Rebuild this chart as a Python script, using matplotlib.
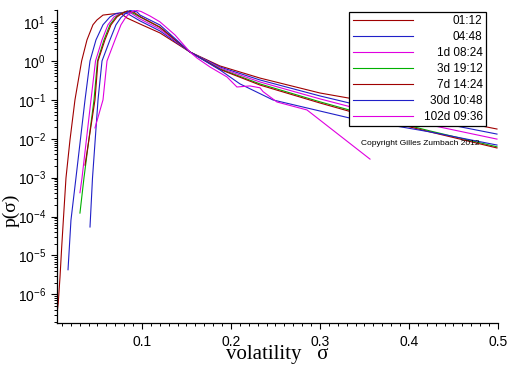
import matplotlib
matplotlib.use("Agg")
import matplotlib.pyplot as plt
from matplotlib.ticker import LogLocator, MultipleLocator, NullFormatter

plt.rcParams['font.family'] = ['Liberation Sans', 'DejaVu Sans']
plt.rcParams['axes.unicode_minus'] = False

# volatility sigma and density p(sigma), one pair per horizon
sig_0112 = [0.0041, 0.0059, 0.0079, 0.0098, 0.0116, 0.0146, 0.0191, 0.0247, 0.0322, 0.0382,
            0.0449, 0.0494, 0.0562, 0.0674, 0.0764, 0.0831, 0.0978, 0.1202, 0.1539, 0.1876,
            0.2326, 0.3000, 0.3562, 0.4236, 0.4989]
p_0112 = [2.63e-7, 6.0e-7, 2.8e-6, 1.66e-5, 7.8e-5, 9.8e-4, 9.3e-3, 0.1, 1.0, 3.47,
          8.5, 11.3, 15.1, 16.2, 16.6, 12.7, 8.9, 5.25, 1.70, 0.744,
          0.363, 0.150, 0.089, 0.039, 0.0178]

sig_0448 = [0.0169, 0.0202, 0.0258, 0.0360, 0.0416, 0.0483, 0.0562, 0.0640, 0.0708, 0.0775,
            0.0843, 0.0978, 0.1202, 0.1539, 0.1876, 0.2326, 0.3000, 0.3562, 0.4236, 0.4989]
p_0448 = [4.3e-6, 8.1e-5, 9.8e-4, 0.1, 1.0, 3.47, 8.5, 13.5, 16.6, 17.6,
          16.2, 10.7, 5.9, 1.70, 0.70, 0.324, 0.126, 0.062, 0.0288, 0.0132]

sig_1d = [0.0303, 0.0326, 0.0427, 0.0478, 0.0551, 0.0618, 0.0685, 0.0753, 0.0809, 0.0876,
          0.0978, 0.1202, 0.1539, 0.1876, 0.2326, 0.3000, 0.3562, 0.4236, 0.4989]
p_1d = [4.1e-4, 9.8e-4, 0.1, 1.0, 3.47, 8.5, 13.5, 16.6, 18.4, 17.0,
        12.0, 6.6, 1.70, 0.66, 0.288, 0.106, 0.049, 0.0226, 0.0098]

sig_3d = [0.0303, 0.0348, 0.0461, 0.0500, 0.0573, 0.0640, 0.0708, 0.0764, 0.0831, 0.0899,
          0.0978, 0.1202, 0.1539, 0.1876, 0.2326, 0.3000, 0.3562, 0.4236, 0.4989]
p_3d = [1.23e-4, 9.8e-4, 0.1, 1.0, 3.47, 8.5, 13.5, 16.6, 19.0, 17.0,
        13.5, 7.3, 1.70, 0.623, 0.257, 0.089, 0.039, 0.0159, 0.0062]

sig_7d = [0.0360, 0.0472, 0.0506, 0.0584, 0.0652, 0.0719, 0.0775, 0.0837, 0.0910, 0.0978,
          0.1202, 0.1539, 0.1876, 0.2326, 0.3000, 0.3562, 0.4236, 0.4989]
p_7d = [2.1e-3, 0.1, 1.0, 3.47, 8.5, 13.5, 16.6, 19.2, 17.8, 13.8,
        7.4, 1.70, 0.605, 0.240, 0.083, 0.036, 0.0150, 0.0058]

sig_30d = [0.0416, 0.0444, 0.0506, 0.0551, 0.0640, 0.0708, 0.0764, 0.0820, 0.0865, 0.0944,
           0.0978, 0.1202, 0.1539, 0.1876, 0.2101, 0.2472, 0.3337, 0.4236, 0.4989]
p_30d = [5.4e-5, 9.8e-4, 0.1, 1.0, 3.47, 8.5, 13.1, 17.0, 19.8, 18.2,
         15.1, 8.4, 1.70, 0.587, 0.257, 0.0994, 0.034, 0.015, 0.0069]

sig_102d = [0.0472, 0.0562, 0.0607, 0.0697, 0.0764, 0.0820, 0.0865, 0.0921, 0.0989, 0.1090,
            0.1202, 0.1371, 0.1539, 0.1618, 0.1764, 0.1955, 0.2067, 0.2213, 0.2326, 0.2360,
            0.2517, 0.2854, 0.3562]
p_102d = [0.019, 0.1, 1.0, 3.47, 8.5, 13.5, 17.0, 20.3, 18.7, 14.3,
          10.1, 4.66, 1.70, 1.19, 0.70, 0.388, 0.214, 0.228, 0.204, 0.163,
          0.088, 0.055, 0.0030]

labels = ['01:12', '04:48', '1d 08:24', '3d 19:12', '7d 14:24', '30d 10:48', '102d 09:36']
colors = ['#a00000', '#2020c8', '#e000e0', '#00b000', '#a00000', '#2020c8', '#e000e0']
series = [(sig_0112, p_0112), (sig_0448, p_0448), (sig_1d, p_1d), (sig_3d, p_3d),
          (sig_7d, p_7d), (sig_30d, p_30d), (sig_102d, p_102d)]

fig = plt.figure(figsize=(5.12, 3.66), dpi=100)
ax = fig.add_axes([0.1113, 0.1175, 0.8613, 0.8552])

for (s, p), lab, c in zip(series, labels, colors):
    ax.plot(s, p, color=c, lw=0.8, label=lab)

ax.set_yscale('log')
ax.set_xlim(0.0045, 0.5)
ax.set_ylim(1.84e-7, 20.4)

for side in ['top', 'right']:
    ax.spines[side].set_visible(False)
ax.spines['left'].set_linewidth(0.9)
ax.spines['bottom'].set_linewidth(0.9)

ax.xaxis.set_major_locator(MultipleLocator(0.1))
ax.xaxis.set_minor_locator(MultipleLocator(0.01))
ax.yaxis.set_major_locator(LogLocator(base=10, numticks=20))
ax.yaxis.set_minor_locator(LogLocator(base=10, subs=range(2, 10), numticks=20))
ax.yaxis.set_minor_formatter(NullFormatter())
ax.tick_params(which='major', direction='out', length=4, width=0.8, labelsize=10)
ax.tick_params(which='minor', direction='out', length=2.2, width=0.7)
ax.tick_params(axis='x', pad=5)
ax.tick_params(axis='y', pad=4)

ax.set_xlabel('volatility   \u03c3', family=['Liberation Serif', 'DejaVu Serif'],
              fontsize=15, labelpad=-3)
fig.text(0.021, 1 - 210 / 366, 'p(\u03c3)', family=['Liberation Serif', 'DejaVu Serif'],
         fontsize=14, rotation=90, ha='center', va='center')

ax.text(0.823, 0.575, 'Copyright Gilles Zumbach 2012', transform=ax.transAxes,
        fontsize=6, ha='center', va='center')

leg = ax.legend(loc='upper right', bbox_to_anchor=(0.973, 0.994), borderaxespad=0,
                fontsize=8.5, handlelength=5.1, handletextpad=0.9, labelspacing=0.33,
                borderpad=0.3, fancybox=False, framealpha=1, edgecolor='black')
leg.get_frame().set_linewidth(0.9)

# right-align the legend labels while keeping the line samples in one column
fig.canvas.draw()
texts = leg.get_texts()
widths = [t.get_window_extent().width for t in texts]
wmax = max(widths)
items = leg._legend_handle_box.get_children()[0].get_children()
for box, w in zip(items, widths):
    box.sep += (wmax - w) * 72 / fig.dpi

fig.savefig('out.png', dpi=100)
